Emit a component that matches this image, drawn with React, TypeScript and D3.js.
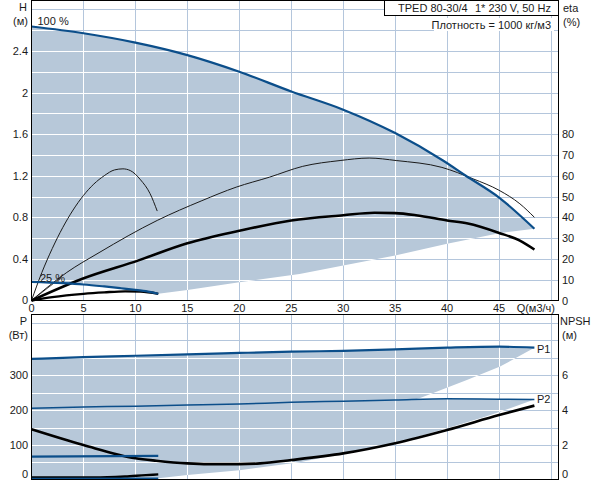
import { useLayoutEffect, useRef } from "react";
import * as d3 from "d3";

// flow axis, shared by both panels
const Q_TICKS = [0, 5, 10, 15, 20, 25, 30, 35, 40, 45];
const Q_GRID = [5, 10, 15, 20, 25, 30, 35, 40, 45, 50];

// head curves (m)
const H100_Q = [0, 5, 10, 15, 20, 25, 30, 35, 39.6, 41.8, 45, 48.4];
const H100 = [2.635, 2.57, 2.48, 2.36, 2.2, 2.01, 1.835, 1.61, 1.346, 1.2, 0.99, 0.69];
const H25_Q = [0, 3, 5, 7, 8.6, 10.2, 11, 12.2];
const H25 = [0.18, 0.167, 0.154, 0.135, 0.118, 0.1, 0.09, 0.065];
const HMIN_Q = [12.2, 15, 20, 25.8, 30, 35, 40, 45, 48.4];
const HMIN = [0.065, 0.1, 0.175, 0.256, 0.337, 0.433, 0.545, 0.647, 0.69];

// efficiency curves (%)
const ETA_P25_Q = [0, 1, 2, 3, 4, 5, 6, 7, 8, 8.8, 9.5, 10.5, 11.4, 12.1];
const ETA_P25 = [0, 13.5, 25, 35, 43.5, 50.5, 56, 60, 62.8, 63.3, 62.5, 58, 51.5, 43];
const ETA_P100_Q = [0, 3.4, 6.5, 12.1, 16.4, 19.7, 22.9, 26.1, 29.7, 32.5, 35.1, 39.5, 42.5, 45, 47, 48.4];
const ETA_P100 = [0, 13.5, 23, 38.5, 48, 54.5, 59.3, 64.5, 67.3, 68.5, 67.3, 64, 58.5, 53, 46.5, 40];
const ETA_T100_Q = [0, 4.9, 10.3, 15, 20, 25, 30, 33, 35, 37, 40, 42, 45, 47, 48.4];
const ETA_T100 = [0, 10.5, 19.3, 27.5, 33.5, 38.5, 41, 42.2, 42, 41, 38.5, 37, 32.5, 28.8, 24.5];
const ETA_T25_Q = [0, 2, 5, 7, 9, 10.5, 12.2];
const ETA_T25 = [0, 1.6, 3.2, 3.9, 4.4, 4.3, 3.2];
const LEADER_Q = [0, 2.9];
const LEADER_H = [0, 0.224];

const H_TICKS = [0, 0.4, 0.8, 1.2, 1.6, 2, 2.4];
const H_GRID = d3.range(1, 15).map((i) => i * 0.2);
const ETA_TICKS = [0, 10, 20, 30, 40, 50, 60, 70, 80];

// power (W) and NPSH (m)
const P_Q = [0, 5, 10, 15, 20, 25, 30, 35, 40, 45, 48.4];
const P1_100 = [346, 351, 355, 359, 363, 366.6, 369, 373, 378, 381, 378];
const P2_100 = [205, 208.6, 211, 214, 217, 222, 225, 228.6, 232, 231, 230];
const P25_Q = [0, 12.2];
const P1_25 = [67, 69];
const P2_25 = [4, 5];
const P1MIN_Q = [12.2, 20, 30, 37.4, 38.6, 41.9, 45.1, 48.4];
const P1MIN = [69, 110, 170, 234, 248, 286, 324, 378];
const P2MIN_Q = [12.2, 15, 20, 25.8, 30, 35, 40, 43.5, 45.1, 48.4];
const P2MIN = [5, 14, 28, 51, 76, 105, 148, 179, 195, 230];
const NPSH_Q = [0, 5, 10, 12, 15, 17, 20, 22, 25, 30, 35, 40, 45, 48.4];
const NPSH = [2.9, 2.0, 1.24, 1.1, 0.95, 0.91, 0.91, 0.95, 1.14, 1.52, 2.1, 2.86, 3.71, 4.25];
const LOW_Q = [0, 6, 9, 11, 12.2];
const LOW_P = [7, 7, 10, 14, 16];

const P_TICKS = [100, 200, 300];
const P_GRID = d3.range(1, 10).map((i) => i * 50);
const NPSH_TICKS = [2, 4, 6];

const FONT = "'Liberation Sans', Arial, sans-serif";
const SHADE = "#b7c8d9";
const GRID = "#b4c6dc";
const BLUE = "#0b4e8a";
const INK = "#1a1a1a";

type Pt = [number, number];
const zip = (a: number[], b: number[]): Pt[] => a.map((v, i) => [v, b[i]]);

export default function App() {
  const svgRef = useRef<SVGSVGElement>(null);

  useLayoutEffect(() => {
    const svgEl = svgRef.current;
    if (!svgEl) return;
    const root = d3.select(svgEl);
    root.selectAll("*").remove();

    const x = d3.scaleLinear().domain([0, 50.72]).range([31.5, 558.5]);
    const yH = d3.scaleLinear().domain([0, 2.885]).range([300.5, 0.5]);
    const yEta = d3.scaleLinear().domain([0, 144.25]).range([300.5, 0.5]);
    const yP = d3.scaleLinear().domain([0, 474]).range([480, 314.1]);
    const yN = d3.scaleLinear().domain([0, 9.48]).range([480, 314.1]);

    const mono = (fy: (v: number) => number) =>
      d3.line<Pt>().x((d) => x(d[0])).y((d) => fy(d[1])).curve(d3.curveMonotoneX);
    const lin = (fy: (v: number) => number) =>
      d3.line<Pt>().x((d) => x(d[0])).y((d) => fy(d[1]));

    const text = (
      g: d3.Selection<SVGGElement, unknown, null, undefined>,
      tx: number,
      ty: number,
      s: string,
      anchor = "start"
    ) =>
      g
        .append("text")
        .attr("x", tx)
        .attr("y", ty)
        .attr("text-anchor", anchor)
        .attr("font-family", FONT)
        .attr("font-size", 11)
        .attr("fill", INK)
        .text(s);

    const defs = root.append("defs");

    const panel = (
      id: string,
      top: number,
      bottom: number,
      hGrid: number[],
      fy: (v: number) => number,
      shadePath: string
    ) => {
      const g = root.append("g");
      // base grid
      const grid = (color: string) => {
        const gg = g.append("g").attr("stroke", color).attr("stroke-width", 1);
        Q_GRID.forEach((q) => {
          const px = Math.round(x(q)) + 0.5;
          gg.append("line").attr("x1", px).attr("x2", px).attr("y1", top).attr("y2", bottom);
        });
        hGrid.forEach((v) => {
          const py = Math.round(fy(v)) + 0.5;
          gg.append("line").attr("x1", 31.5).attr("x2", 558.5).attr("y1", py).attr("y2", py);
        });
        return gg;
      };
      grid(GRID);
      g.append("path").attr("d", shadePath).attr("fill", SHADE);
      defs.append("clipPath").attr("id", id).append("path").attr("d", shadePath);
      grid("#ffffff").attr("clip-path", `url(#${id})`);
      return g;
    };

    // ---- top panel: head + efficiency
    const topShade =
      mono(yH)(zip(H100_Q, H100))! +
      lin(yH)(zip(HMIN_Q, HMIN).reverse())!.replace(/^M/, "L") +
      mono(yH)(zip(H25_Q, H25).reverse())!.replace(/^M/, "L") +
      "Z";
    const gTop = panel("clipTop", 0.5, 300.5, H_GRID, yH, topShade);

    const stroke = (
      g: d3.Selection<SVGGElement, unknown, null, undefined>,
      d: string,
      color: string,
      w: number
    ) =>
      g
        .append("path")
        .attr("d", d)
        .attr("fill", "none")
        .attr("stroke", color)
        .attr("stroke-width", w)
        .attr("stroke-linejoin", "round");

    stroke(gTop, lin(yH)(zip(LEADER_Q, LEADER_H))!, INK, 0.8);
    stroke(gTop, mono(yEta)(zip(ETA_P25_Q, ETA_P25))!, INK, 1);
    stroke(gTop, mono(yEta)(zip(ETA_P100_Q, ETA_P100))!, INK, 1);
    stroke(gTop, mono(yEta)(zip(ETA_T100_Q, ETA_T100))!, "#000", 2.6);
    stroke(gTop, mono(yEta)(zip(ETA_T25_Q, ETA_T25))!, "#000", 2.4);
    stroke(gTop, mono(yH)(zip(H25_Q, H25))!, BLUE, 2.2);
    stroke(gTop, mono(yH)(zip(H100_Q, H100))!, BLUE, 2.2);

    gTop
      .append("rect")
      .attr("x", 31.5)
      .attr("y", 0.5)
      .attr("width", 527)
      .attr("height", 300)
      .attr("fill", "none")
      .attr("stroke", "#000");

    // ---- bottom panel: power + NPSH
    const p1Shade =
      mono(yP)(zip(P_Q, P1_100))! +
      lin(yP)(zip(P1MIN_Q, P1MIN).reverse())!.replace(/^M/, "L") +
      lin(yP)(zip(P25_Q, P1_25).reverse())!.replace(/^M/, "L") +
      "Z";
    const p2Shade =
      mono(yP)(zip(P_Q, P2_100))! +
      lin(yP)(zip(P2MIN_Q, P2MIN).reverse())!.replace(/^M/, "L") +
      lin(yP)(zip(P25_Q, P2_25).reverse())!.replace(/^M/, "L") +
      "Z";
    const gBot = panel("clipBot", 314.5, 480, P_GRID, yP, p1Shade + p2Shade);

    stroke(gBot, mono(yN)(zip(NPSH_Q, NPSH))!, "#000", 2.6);
    stroke(gBot, mono(yP)(zip(LOW_Q, LOW_P))!, "#000", 2.4);
    stroke(gBot, lin(yP)(zip(P25_Q, P1_25))!, BLUE, 2.2);
    stroke(gBot, lin(yP)(zip(P25_Q, P2_25))!, BLUE, 1.6);
    stroke(gBot, mono(yP)(zip(P_Q, P1_100))!, BLUE, 2.2);
    stroke(gBot, mono(yP)(zip(P_Q, P2_100))!, BLUE, 1.5);

    gBot
      .append("rect")
      .attr("x", 31.5)
      .attr("y", 314.5)
      .attr("width", 527)
      .attr("height", 165)
      .attr("fill", "none")
      .attr("stroke", "#000");

    // ---- labels
    const gl = root.append("g");
    Q_TICKS.forEach((q) => text(gl, x(q), 312, String(q), "middle"));
    text(gl, 555, 312, "Q(м3/ч)", "end");

    H_TICKS.forEach((v) => text(gl, 28, Math.min(yH(v) + 4, 304), String(v), "end"));
    text(gl, 27, 11, "H", "end");
    text(gl, 28, 25, "(м)", "end");
    ETA_TICKS.forEach((v) => text(gl, 562, yEta(v) + 4, String(v)));
    text(gl, 563, 12, "eta");
    text(gl, 563, 26, "(%)");

    text(gl, 28, 478, "0", "end");
    P_TICKS.forEach((v) => text(gl, 28, yP(v) + 4, String(v), "end"));
    text(gl, 27, 325, "P", "end");
    text(gl, 28, 339, "(Вт)", "end");
    text(gl, 562, 478, "0");
    NPSH_TICKS.forEach((v) => text(gl, 562, yN(v) + 4, String(v)));
    text(gl, 560, 325, "NPSH");
    text(gl, 562, 339, "(м)");

    text(gl, 37.5, 25, "100 %");
    text(gl, 40, 282, "25 %");
    text(gl, 537, 353, "P1");
    text(gl, 537, 403, "P2");

    // header
    gl.append("rect")
      .attr("x", 384.5)
      .attr("y", 0.5)
      .attr("width", 174)
      .attr("height", 15)
      .attr("fill", "#fff")
      .attr("stroke", "#000");
    text(gl, 398, 12, "TPED 80-30/4");
    text(gl, 551, 12, "1* 230 V, 50 Hz", "end");
    gl.append("rect")
      .attr("x", 434)
      .attr("y", 18)
      .attr("width", 120)
      .attr("height", 13)
      .attr("fill", "#fff");
    text(gl, 551, 29, "Плотность = 1000 кг/м3", "end");
  }, []);

  return (
    <div style={{ position: "absolute", left: 0, top: 0, width: 592, height: 480, background: "#fff" }}>
      <svg ref={svgRef} width={592} height={480} style={{ display: "block" }} />
    </div>
  );
}
